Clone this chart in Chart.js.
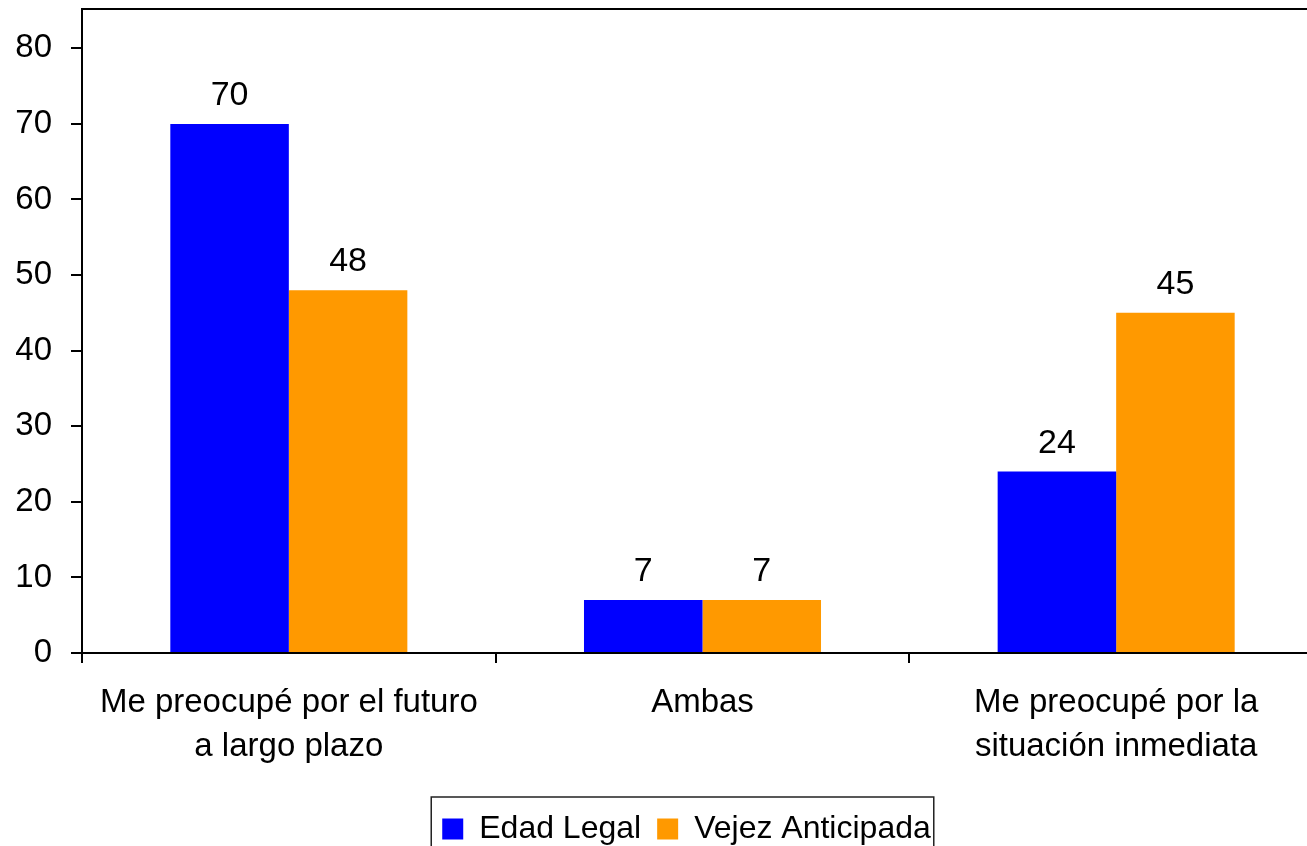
<!DOCTYPE html>
<html>
<head>
<meta charset="utf-8">
<script src="https://cdn.jsdelivr.net/npm/chart.js@4/dist/chart.umd.min.js"></script>
<style>
  html, body { margin: 0; padding: 0; background: #fff; overflow: hidden; }
  canvas { display: block; }
</style>
</head>
<body>
<canvas id="chart" width="1323" height="855"></canvas>
<script>
const categories = [
    ["Me preocupé por el futuro", "a largo plazo"],
    "Ambas",
    ["Me preocupé por la", "situación inmediata"],
];
const seriesNames = ["Edad Legal", "Vejez Anticipada"];
const edadLegal = [70, 7, 24];
const vejezAnticipada = [48, 7, 45];
const yTicks = [0, 10, 20, 30, 40, 50, 60, 70, 80];

const fontFamily = "'Liberation Sans', Arial, sans-serif";
const fontSize = 33;

// value labels above each bar
const barLabels = {
    id: "barLabels",
    afterDatasetsDraw(chart) {
        const ctx = chart.ctx;
        ctx.save();
        ctx.fillStyle = "#000";
        ctx.font = "34px " + fontFamily;
        ctx.textAlign = "center";
        ctx.textBaseline = "alphabetic";
        chart.data.datasets.forEach((ds, i) => {
            chart.getDatasetMeta(i).data.forEach((bar, j) => {
                ctx.fillText(ds.data[j], bar.x, bar.y - 19);
            });
        });
        ctx.restore();
    },
};

// top border of the plot and box round the legend
const frame = {
    id: "frame",
    afterLayout(chart) {
        // legend sits a little right of the canvas centre
        chart.legend.left += 25;
        chart.legend.right += 25;
    },
    afterDraw(chart) {
        const ctx = chart.ctx;
        const area = chart.chartArea;
        ctx.save();
        ctx.strokeStyle = "#000";
        ctx.lineWidth = 2;
        ctx.beginPath();
        ctx.moveTo(area.left, area.top);
        ctx.lineTo(area.right, area.top);
        ctx.stroke();

        const boxes = chart.legend.legendHitBoxes;
        if (boxes && boxes.length) {
            const left = Math.min(...boxes.map(b => b.left)) - 11;
            const right = Math.max(...boxes.map(b => b.left + b.width)) + 3;
            const top = Math.min(...boxes.map(b => b.top)) - 16;
            ctx.lineWidth = 1.5;
            ctx.strokeStyle = "#222";
            ctx.strokeRect(left, top, right - left, 200);
        }
        ctx.restore();
    },
};

new Chart(document.getElementById("chart"), {
    type: "bar",
    plugins: [barLabels, frame],
    data: {
        labels: categories,
        datasets: [
            { label: seriesNames[0], data: edadLegal, backgroundColor: "#0000FF" },
            { label: seriesNames[1], data: vejezAnticipada, backgroundColor: "#FF9900" },
        ],
    },
    options: {
        responsive: false,
        animation: false,
        layout: { padding: { top: 9, left: 0, right: 0, bottom: 0 } },
        datasets: {
            bar: { categoryPercentage: 0.573, barPercentage: 1.0 },
        },
        scales: {
            x: {
                grid: { drawOnChartArea: false, offset: true, color: "#000", lineWidth: 2, tickLength: 10 },
                border: { display: true, color: "#000", width: 2 },
                ticks: {
                    color: "#000",
                    font: { size: fontSize, family: fontFamily, lineHeight: 1.36 },
                    padding: 17,
                    maxRotation: 0,
                    autoSkip: false,
                },
                afterFit(scale) {
                    scale.height = 144;
                    scale.paddingLeft = 0;
                    scale.paddingRight = 0;
                },
            },
            y: {
                min: 0,
                max: 85.2,
                grid: { drawOnChartArea: false, color: "#000", lineWidth: 2, tickLength: 11 },
                border: { display: true, color: "#000", width: 2 },
                ticks: {
                    color: "#000",
                    font: { size: fontSize, family: fontFamily },
                    padding: 19,
                    stepSize: 10,
                },
                afterBuildTicks(scale) {
                    scale.ticks = yTicks.map(v => ({ value: v }));
                },
                afterFit(scale) {
                    scale.width = 82;
                    scale.paddingTop = 0;
                    scale.paddingBottom = 0;
                },
            },
        },
        plugins: {
            tooltip: { enabled: false },
            legend: {
                position: "bottom",
                labels: {
                    color: "#000",
                    font: { size: 32, family: fontFamily },
                    boxWidth: 21,
                    boxHeight: 21,
                    padding: 16,
                },
            },
        },
    },
});
</script>
</body>
</html>
